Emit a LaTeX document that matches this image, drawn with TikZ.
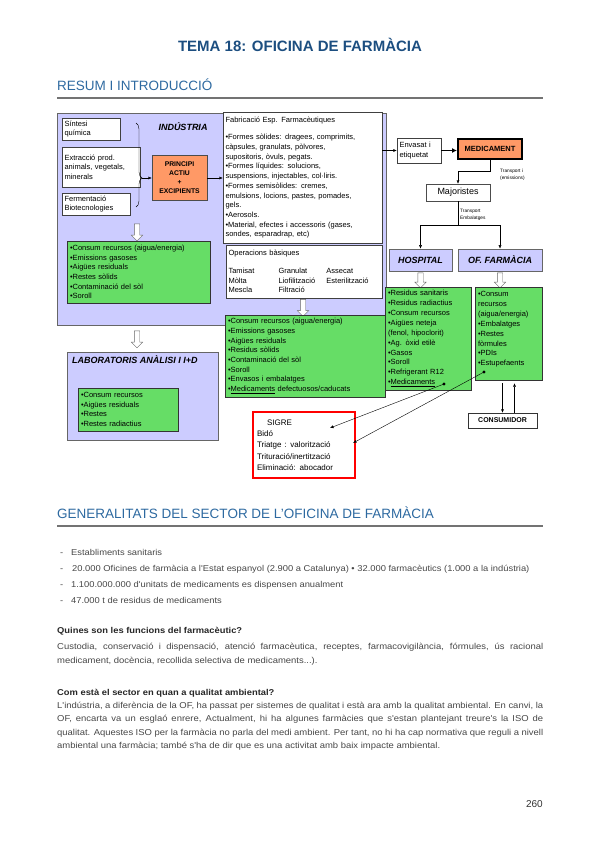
\documentclass[tikz,border=0pt]{standalone}
\usepackage{fontspec}
\setmainfont{Liberation Sans}
\newfontfamily\bodyfont[FakeStretch=1.1]{Liberation Sans}
\usepackage{tikz}
\usetikzlibrary{arrows.meta,positioning,shapes.arrows,decorations.pathreplacing}
\definecolor{lav}{RGB}{204,204,255}
\definecolor{grn}{RGB}{102,221,102}
\definecolor{ora}{RGB}{255,153,102}
\definecolor{ttblue}{RGB}{28,78,128}
\definecolor{hdblue}{RGB}{45,105,160}
\definecolor{bodygray}{RGB}{70,70,70}
\newcommand\diagfont{\fontsize{7.5}{9.7}\selectfont}

\begin{document}
\begin{tikzpicture}[x=1pt,y=-1pt,>={Latex[length=3.5pt,width=3pt]},
  lavbox/.style={draw=black!60,fill=lav,line width=0.7pt},
  whbox/.style={draw=black!75,fill=white,align=left,inner sep=2.5pt,font=\diagfont},
  grbox/.style={draw=black!80,fill=grn,align=left,inner sep=3pt,font=\diagfont},
  hollow/.style={single arrow,draw=black!60,fill=white,rotate=-90,inner sep=2.5pt,single arrow head extend=3pt,minimum height=#1},
  boldlbl/.style={font=\fontsize{9}{10}\selectfont\bfseries\itshape},
  bul/.style={anchor=base west,inner sep=0pt,font=\bodyfont\fontsize{8.5}{10}\selectfont,text=bodygray},
  para/.style={anchor=base west,inner sep=0pt,text width=486pt,align=justify,font=\bodyfont\fontsize{8.6}{#1}\selectfont,text=bodygray},
  quest/.style={anchor=base west,inner sep=0pt,font=\bodyfont\fontsize{8.5}{10}\selectfont\bfseries,text=black!85},
  head/.style={anchor=base west,inner sep=0pt,font=\fontsize{13.5}{16}\selectfont,text=hdblue}]
\useasboundingbox (0,0) rectangle (599,848);

\node[font=\fontsize{15}{18}\selectfont\bfseries,text=ttblue] (tema) at (300,45) {TEMA 18: OFICINA DE FARMÀCIA};
\node[head] (resum) at (57,91) {RESUM I INTRODUCCIÓ};
\draw[line width=2pt,black!55] (57,98) -- (543,98);

\node[lavbox,minimum width=329pt,minimum height=212pt] (ind_box) at (221.5,219) {};
\node[boldlbl] (ind_lbl) at (183,127) {INDÚSTRIA};
\node[whbox,minimum width=58pt,minimum height=22pt,text width=53pt] (sint) at (91,129) {Síntesi\\química};
\node[whbox,minimum width=78pt,minimum height=40pt,text width=73pt] (extr) at (101,167) {Extracció prod.\\animals, vegetals,\\minerals};
\node[whbox,minimum width=68pt,minimum height=22pt,text width=63pt] (ferm) at (96,204) {Fermentació\\Biotecnologies};
\draw[decorate,decoration={brace,amplitude=6pt,aspect=0.655}] (136,123) -- (136,207);
\coordinate (br_tip) at (142,178);
\node[draw=black!70,fill=ora,minimum width=55pt,minimum height=45pt,align=center,font=\fontsize{6.8}{9}\selectfont\bfseries,inner sep=1pt] (pa_box) at (179.5,178) {PRINCIPI\\ACTIU\\+\\EXCIPIENTS};
\node[whbox,minimum width=159pt,minimum height=131pt,text width=154pt] (fab) at (302.5,177.5) {Fabricació Esp. Farmacèutiques\\[8pt]•Formes sòlides: dragees, comprimits,\\càpsules, granulats, pòlvores,\\supositoris, òvuls, pegats.\\•Formes líquides: solucions,\\suspensions, injectables, col·liris.\\•Formes semisòlides: cremes,\\emulsions, locions, pastes, pomades,\\gels.\\•Aerosols.\\•Material, efectes i accessoris (gases,\\sondes, esparadrap, etc)};
\node[hollow=17pt] (ha_ind) at (137,231) {};
\node[grbox,minimum width=143pt,minimum height=62pt,text width=137pt] (g_ind) at (138.5,272) {•Consum recursos (aigua/energia)\\•Emissions gasoses\\•Aigües residuals\\•Restes sòlids\\•Contaminació del sòl\\•Soroll};
\node[whbox,minimum width=156pt,minimum height=53pt,text width=151pt] (ops) at (304,271.5) {Operacions bàsiques\\[8pt]\makebox[50pt][l]{Tamisat}\makebox[48pt][l]{Granulat}Assecat\\\makebox[50pt][l]{Mòlta}\makebox[48pt][l]{Liofilització}Esterilització\\\makebox[50pt][l]{Mescla}Filtració};
\node[hollow=17pt] (ha_ops) at (303,306.5) {};
\node[grbox,minimum width=160pt,minimum height=82pt,text width=154pt] (g_fab) at (305,356) {•Consum recursos (aigua/energia)\\•Emissions gasoses\\•Aigües residuals\\•Residus sòlids\\•Contaminació del sòl\\•Soroll\\•Envasos i embalatges\\•\underline{Medicaments} defectuosos/caducats};

\node[hollow=17pt] (ha_lab) at (137,338) {};
\node[lavbox,minimum width=151pt,minimum height=88pt] (lab) at (142.5,396) {};
\node[boldlbl,anchor=west,inner sep=0pt] (lab_lbl) at (72,360) {LABORATORIS ANÀLISI I I+D};
\node[grbox,minimum width=100pt,minimum height=43pt,text width=94pt] (g_lab) at (128,409.5) {•Consum recursos\\•Aigües residuals\\•Restes\\•Restes radiactius};

\node[whbox,minimum width=44pt,minimum height=25pt,text width=39pt] (env) at (419,150.5) {Envasat i\\etiquetat};
\node[draw=black,line width=2pt,fill=ora,minimum width=64pt,minimum height=20pt,font=\fontsize{7.5}{9}\selectfont\bfseries] (med) at (490,149) {MEDICAMENT};
\node[draw=black!70,fill=white,minimum width=64pt,minimum height=17pt,font=\fontsize{9}{10}\selectfont] (majo) at (458,192.5) {Majoristes};
\node[anchor=west,inner sep=0pt,align=left,font=\fontsize{4.8}{7}\selectfont] (tr_em) at (500,174.5) {Transport i\\(emissions)};
\node[anchor=west,inner sep=0pt,align=left,font=\fontsize{4.8}{7}\selectfont] (tr_emb) at (460,215) {Transport\\Embalatges};
\coordinate (split) at (458,225);
\node[lavbox,minimum width=63pt,minimum height=22pt,boldlbl] (hosp) at (420.5,260) {HOSPITAL};
\node[lavbox,minimum width=84pt,minimum height=22pt,boldlbl] (ofar) at (500,260) {OF. FARMÀCIA};
\node[hollow=15pt] (ha_hosp) at (420.5,279) {};
\node[hollow=15pt] (ha_of) at (500,279) {};
\node[grbox,minimum width=86pt,minimum height=103pt,text width=80pt,font=\fontsize{7.5}{9.9}\selectfont] (g_hosp) at (428,338.5) {•Residus sanitaris\\•Residus radiactius\\•Consum recursos\\•Aigües neteja\\(fenol, hipoclorit)\\•Ag. òxid etilè\\•Gasos\\•Soroll\\•Refrigerant R12\\•\underline{Medicaments}};
\node[grbox,minimum width=67pt,minimum height=93pt,text width=61pt,font=\fontsize{7.5}{9.9}\selectfont] (g_of) at (508.5,333.5) {•Consum\\recursos\\(aigua/energia)\\•Embalatges\\•Restes\\fòrmules\\•PDIs\\•Estupefaents\\[0pt]\mbox{}};
\node[draw=black!80,fill=white,minimum width=69pt,minimum height=15pt,font=\fontsize{7}{8}\selectfont\bfseries] (cons) at (502.5,420.5) {CONSUMIDOR};
\coordinate (c_up) at ([xshift=12pt]cons.north);
\node[draw=red,line width=1.2pt,fill=white,minimum width=102pt,minimum height=66pt,text width=94pt,inner sep=4pt,align=left,font=\fontsize{8}{11.3}\selectfont] (sigre) at (304,445) {\hspace*{10pt}SIGRE\\Bidó\\Triatge : valorització\\Trituració/inertització\\Eliminació: abocador};

\draw[->] (br_tip) -- (pa_box.west);
\draw[->] (pa_box.east) -- (pa_box.east -| fab.west);
\draw[->] (fab.east |- env.west) -- (env.west);
\draw[-{Latex[length=5pt,width=5pt]},line width=1.6pt] (env.east) -- (env.east -| med.west);
\draw[->] (med.south) -- ++(0,11) -| (majo.north);
\draw (majo.south) -- (split);
\draw[->] (split) -| (hosp.north);
\draw[->] (split) -| (ofar.north);
\draw[->,shorten <=3pt] (cons.north |- g_of.south) -- (cons.north);
\draw[->,shorten >=3pt] (c_up) -- (c_up |- g_of.south);
\coordinate (d_med) at (444,384);
\coordinate (d_est) at (484,372);
\coordinate (s_bido) at (330,428);
\coordinate (s_tri) at (353,443);
\fill (d_med) circle (1.6pt);
\fill (d_est) circle (1.6pt);
\draw[->] (d_med) -- (s_bido);
\draw[->] (d_est) -- (s_tri);

\node[head] (gen) at (57,518) {GENERALITATS DEL SECTOR DE L'OFICINA DE FARMÀCIA};
\draw[line width=2pt,black!55] (57,526) -- (543,526);
\foreach \yy [count=\i] in {555,571,587,603} \node[bul] (dash\i) at (60,\yy) {-};
\node[bul] (b_est) at (71,555) {Establiments sanitaris};
\node[bul] (b_of) at (72,571) {20.000 Oficines de farmàcia a l'Estat espanyol (2.900 a Catalunya) • 32.000 farmacèutics (1.000 a la indústria)};
\node[bul] (b_un) at (71,587) {1.100.000.000 d'unitats de medicaments es dispensen anualment};
\node[bul] (b_res) at (71,603) {47.000 t de residus de medicaments};

\node[quest] (q_func) at (57,633) {Quines son les funcions del farmacèutic?};
\node[para=14pt] (p_func) at (57,649) {Custodia, conservació i dispensació, atenció farmacèutica, receptes, farmacovigilància, fórmules, ús racional\linebreak medicament, docència, recollida selectiva de medicaments...).};
\node[quest] (q_qual) at (57,695) {Com està el sector en quan a qualitat ambiental?};
\node[para=13.6pt] (p_qual) at (57,708) {L'indústria, a diferència de la OF, ha passat per sistemes de qualitat i està ara amb la qualitat ambiental. En canvi, la\linebreak OF, encarta va un esglaó enrere, Actualment, hi ha algunes farmàcies que s'estan plantejant treure's la ISO de\linebreak qualitat. Aquestes ISO per la farmàcia no parla del medi ambient. Per tant, no hi ha cap normativa que reguli a nivell\linebreak ambiental una farmàcia; també s'ha de dir que es una activitat amb baix impacte ambiental.};
\node[anchor=base east,inner sep=0pt,font=\fontsize{10}{12}\selectfont,text=black!80] (pg) at (543,807) {260};
\end{tikzpicture}
\end{document}
